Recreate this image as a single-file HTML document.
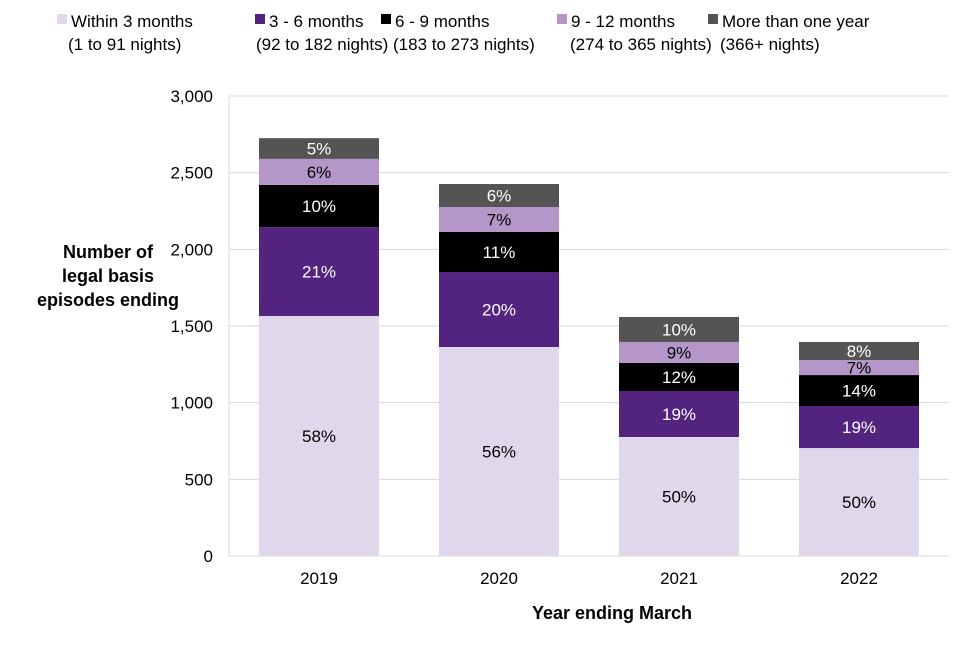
<!DOCTYPE html>
<html><head><meta charset="utf-8"><style>
body{margin:0;background:#fff;font-family:"Liberation Sans",Arial,sans-serif}
svg text{font-family:"Liberation Sans",Arial,sans-serif}
</style></head><body>
<svg id="chart" width="960" height="640" viewBox="0 0 960 640">
<g id="legend"></g>
<g id="grid"></g>
<g id="bars"></g>
<g id="axes"></g>
<text font-size="18" font-weight="bold" text-anchor="middle" fill="#000"><tspan x="108" y="258">Number of</tspan><tspan x="108" y="282">legal basis</tspan><tspan x="108" y="306">episodes ending</tspan></text>
<text x="612" y="619" font-size="18" font-weight="bold" text-anchor="middle">Year ending March</text>
</svg>
<script>
const categories=["2019","2020","2021","2022"];
const seriesNames=["Within 3 months","3 - 6 months","6 - 9 months","9 - 12 months","More than one year"];
const seriesSub=["(1 to 91 nights)","(92 to 182 nights)","(183 to 273 nights)","(274 to 365 nights)","(366+ nights)"];
const within3=[1565,1363,776,704];
const m3to6=[580,489,300,274];
const m6to9=[275,261,183,202];
const m9to12=[170,163,137,98];
const overYear=[135,150,163,118];
const pctWithin3=["58%","56%","50%","50%"];
const pct3to6=["21%","20%","19%","19%"];
const pct6to9=["10%","11%","12%","14%"];
const pct9to12=["6%","7%","9%","7%"];
const pctOverYear=["5%","6%","10%","8%"];
const yTicks=[0,500,1000,1500,2000,2500,3000];
const yTickLabels=["0","500","1,000","1,500","2,000","2,500","3,000"];

const series=[within3,m3to6,m6to9,m9to12,overYear];
const pcts=[pctWithin3,pct3to6,pct6to9,pct9to12,pctOverYear];
const colors=["#e0d8ea","#52247f","#000000","#b497c8","#545454"];
const textCol=["#000","#fff","#fff","#000","#fff"];
const NS="http://www.w3.org/2000/svg";
const x0=229,x1=949,yb=556,yt=96,yMax=3000;
const y=v=>yb-(v/yMax)*(yb-yt);
const band=(x1-x0)/categories.length;
const bw=120;
const bx=i=>x0+band*i+(band-bw)/2;
function mk(t,a,p){const e=document.createElementNS(NS,t);for(const k in a)e.setAttribute(k,a[k]);p.appendChild(e);return e;}
const grid=document.getElementById('grid'),axes=document.getElementById('axes'),bars=document.getElementById('bars'),legend=document.getElementById('legend');
yTicks.forEach((t,i)=>{
 const l=mk('line',{x1:x0,x2:x1,y1:y(t),y2:y(t),stroke:'#d9d9d9','stroke-width':1},grid);
 
 
 const tx=mk('text',{x:213,y:y(t)+6,'font-size':17,'text-anchor':'end',fill:'#000'},axes);
 tx.textContent=yTickLabels[i];
 
 
});
const ax=mk('line',{x1:x0,x2:x0,y1:yt,y2:yb,stroke:'#d9d9d9'},axes);


categories.forEach((c,i)=>{
 let cum=0;
 series.forEach((s,j)=>{
  const v=s[i];const top=y(cum+v),bot=y(cum);
  const r=mk('rect',{x:bx(i),y:top,width:bw,height:bot-top,fill:colors[j]},bars);
  
  
  const t=mk('text',{x:bx(i)+bw/2,y:(top+bot)/2+6,'font-size':17,'text-anchor':'middle',fill:textCol[j]},bars);
  t.textContent=pcts[j][i];
  
  
  cum+=v;
 });
 const xl=mk('text',{x:bx(i)+bw/2,y:584,'font-size':17,'text-anchor':'middle'},axes);
 xl.textContent=c;
 
 
});
const lx=[57,255,381,557,708];
const sx=[68,256,393,570,720];
seriesNames.forEach((n,j)=>{
 const g=mk('g',{},legend);
 
 
 mk('rect',{x:lx[j],y:14,width:10,height:10,fill:colors[j]},g);
 const t=mk('text',{x:lx[j]+14,y:27,'font-size':17},g);t.textContent=n;
 const t2=mk('text',{x:sx[j],y:50,'font-size':17},g);t2.textContent=seriesSub[j];
});
</script>
</body></html>
